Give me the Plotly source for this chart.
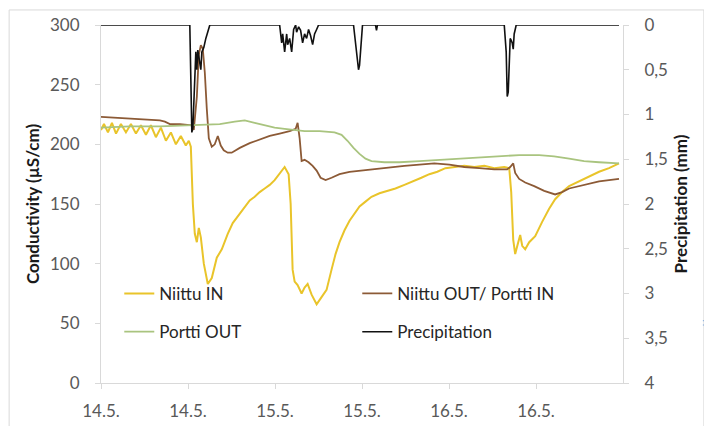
import pandas as pd
import plotly.graph_objects as go

START = pd.Timestamp("2015-05-14 00:00")

# ---- data (hours since 14.5. 00:00) ----
niittu_in_hours = [0, 0.41, 0.96, 1.51, 2.07, 2.75, 3.44, 4.13, 4.82, 5.51, 6.20, 6.88, 7.57, 8.26, 8.95,
                   9.64, 10.33, 11.01, 11.70, 12.11, 12.39, 12.67, 12.94, 13.22, 13.49, 13.77, 14.18, 14.73,
                   15.28, 15.97, 16.66, 17.48, 18.17, 19.14, 19.82, 20.51, 21.20, 21.89, 22.58, 23.27, 23.95,
                   24.64, 25.33, 25.88, 26.16, 26.43, 26.71, 27.12, 27.67, 28.08, 28.50, 29.05, 29.74, 30.42,
                   31.11, 31.80, 32.35, 32.90, 33.59, 34.28, 34.97, 35.66, 36.48, 37.31, 38.41, 39.51, 40.61,
                   41.85, 43.09, 44.19, 45.29, 46.39, 47.50, 48.73, 50.11, 51.49, 52.87, 54.24, 55.62, 56.31,
                   56.58, 56.86, 57.13, 57.55, 57.82, 58.10, 58.51, 59.06, 59.89, 60.85, 61.81, 62.64, 63.60,
                   64.57, 65.94, 67.32, 68.70, 70.07, 71.45]
niittu_in_cond = [212, 217, 210, 218, 209, 217, 210, 217, 209, 216, 208, 216, 206, 214, 203,
                  210, 200, 207, 199, 203, 198, 150, 125, 118, 130, 122, 100, 83,
                  88, 105, 112, 125, 134, 142, 148, 153, 156, 160, 163, 166, 170,
                  176, 181, 175, 150, 95, 85, 82, 75, 80, 83, 74, 66, 72,
                  78, 95, 108, 118, 128, 136, 142, 148, 152, 156, 159, 161, 163,
                  166, 169, 172, 175, 177, 180, 181, 182, 181, 182, 180, 181, 180,
                  160, 120, 108, 118, 124, 115, 112, 118, 123, 135, 146, 154, 160,
                  165, 169, 173, 177, 180, 184]

niittu_out_hours = [0, 2.62, 5.37, 8.12, 8.81, 9.50, 10.88, 11.98, 12.53, 12.80, 13.22, 13.49, 13.77, 14.04,
                    14.32, 14.59, 14.87, 15.28, 15.69, 16.11, 16.52, 16.93, 17.48, 18.03, 19.14, 20.51, 21.89,
                    23.27, 24.64, 26.02, 26.85, 27.12, 27.40, 27.67, 28.08, 28.63, 29.19, 29.74, 30.29, 30.98,
                    31.80, 32.90, 34.28, 35.66, 37.72, 39.79, 41.85, 43.92, 45.98, 48.05, 50.11, 52.18, 54.24,
                    56.03, 56.44, 56.86, 57.13, 57.68, 58.51, 59.75, 61.13, 62.64, 63.60, 64.57, 65.94, 67.32,
                    68.70, 70.07, 71.45]
niittu_out_cond = [223, 222, 221, 220, 219, 217, 217, 216, 216, 212, 240, 275, 283, 280,
                   260, 230, 205, 198, 200, 207, 199, 195, 193, 193, 197, 201, 204,
                   207, 209, 211, 213, 218, 205, 186, 187, 185, 182, 178, 172, 170,
                   172, 175, 177, 178, 179, 181, 182, 183, 184, 183, 181, 180, 179,
                   179, 181, 184, 176, 171, 168, 165, 161, 158, 160, 163, 165, 167,
                   169, 170, 171]

portti_out_hours = [0, 3.99, 8.12, 12.25, 14.32, 16.38, 18.45, 19.82, 21.20, 22.58, 23.95, 25.33, 26.71,
                    28.08, 30.15, 32.21, 33.18, 34.00, 34.83, 35.66, 36.48, 37.31, 39.10, 41.16, 43.92, 46.67,
                    49.42, 52.18, 54.93, 57.68, 60.44, 62.50, 64.57, 66.63, 68.70, 71.45]
portti_out_cond = [214, 215, 215, 216, 216, 217, 219, 220, 218, 216, 214, 213, 212,
                   211, 211, 210, 208, 203, 197, 192, 188, 186, 185, 185, 186, 187,
                   188, 189, 190, 191, 191, 190, 188, 186, 185, 184]

precip_hours = [0, 12.25, 12.39, 12.53, 12.67, 12.80, 13.08, 13.22, 13.35, 13.49, 13.77, 13.91, 14.18,
                14.46, 14.73, 15.01, 24.64, 24.92, 25.06, 25.33, 25.61, 25.74, 26.02, 26.30, 26.57, 26.85,
                26.98, 27.26, 27.53, 27.81, 28.08, 28.36, 28.63, 28.91, 29.19, 29.46, 29.74, 30.01, 34.83,
                35.24, 35.52, 35.66, 35.93, 36.07, 37.86, 38.00, 38.13, 55.62, 55.89, 56.03, 56.17, 56.31,
                56.44, 56.58, 56.72, 56.86, 56.99, 57.27, 71.45]
precip_mm = [0, 0, 0.6, 1.2, 1.15, 0.8, 0.3, 0.5, 0.28, 0.35, 0.5, 0.3, 0.25,
             0.15, 0.08, 0, 0, 0.2, 0.1, 0.3, 0.1, 0.22, 0.15, 0.3, 0.05, 0,
             0.08, 0.02, 0.06, 0.2, 0.1, 0.15, 0.05, 0.12, 0.22, 0.1, 0.05, 0, 0,
             0.3, 0.5, 0.45, 0.1, 0, 0, 0.06, 0, 0, 0.3, 0.8, 0.75, 0.3,
             0.15, 0.17, 0.2, 0.27, 0.1, 0, 0]

tick_hours = [0, 12, 24, 36, 48, 60]
tick_labels = ["14.5.", "14.5.", "15.5.", "15.5.", "16.5.", "16.5."]
precip_ticks = [0, 0.5, 1, 1.5, 2, 2.5, 3, 3.5, 4]
precip_tick_labels = ["0", "0,5", "1", "1,5", "2", "2,5", "3", "3,5", "4"]


def to_time(hours):
    return [START + pd.Timedelta(hours=h) for h in hours]


FONT = "Lato, Carlito, Calibri, 'Open Sans', sans-serif"
TICK_COLOR = "#595959"
LINE_COLOR = "#d9d9d9"

fig = go.Figure()
fig.add_trace(go.Scatter(x=to_time(niittu_in_hours), y=niittu_in_cond, name="Niittu IN",
                         mode="lines", line=dict(color="#e9c42a", width=2), legend="legend"))
fig.add_trace(go.Scatter(x=to_time(niittu_out_hours), y=niittu_out_cond, name="Niittu OUT/ Portti IN",
                         mode="lines", line=dict(color="#8c5a36", width=1.8), legend="legend"))
fig.add_trace(go.Scatter(x=to_time(portti_out_hours), y=portti_out_cond, name="Portti OUT",
                         mode="lines", line=dict(color="#a9c47f", width=1.8), legend="legend2"))
fig.add_trace(go.Scatter(x=to_time(precip_hours), y=precip_mm, name="Precipitation", yaxis="y2",
                         mode="lines", line=dict(color="#111111", width=1.6), legend="legend2"))

legend_common = dict(orientation="h", xref="paper", yref="paper", xanchor="left", yanchor="middle",
                     entrywidth=193, itemwidth=30, bgcolor="rgba(0,0,0,0)",
                     font=dict(family=FONT, size=17, color="#262626"))

# the page body has an 8px margin, so the figure is drawn 8px smaller and the
# margins are reduced accordingly to keep the plot area where the reference has it
fig.update_layout(
    width=704, height=418,
    margin=dict(l=93, r=89, t=17, b=43, autoexpand=False),
    paper_bgcolor="white", plot_bgcolor="white",
    font=dict(family=FONT, size=17, color=TICK_COLOR),
    showlegend=True,
    legend=dict(x=0.035, y=0.249, **legend_common),
    legend2=dict(x=0.035, y=0.142, **legend_common),
    xaxis=dict(type="date", range=[START, START + pd.Timedelta(hours=72)],
               tickmode="array", tickvals=to_time(tick_hours), ticktext=tick_labels,
               ticks="outside", ticklen=5, tickcolor=LINE_COLOR, showline=True, linecolor=LINE_COLOR,
               showgrid=False, zeroline=False, ticklabelstandoff=8,
               tickfont=dict(family=FONT, size=17, color=TICK_COLOR)),
    yaxis=dict(range=[0, 300], tick0=0, dtick=50, ticks="outside", ticklen=5, tickcolor=LINE_COLOR,
               showline=True, linecolor=LINE_COLOR, showgrid=False, zeroline=False,
               ticklabelstandoff=12,
               tickfont=dict(family=FONT, size=17, color=TICK_COLOR),
               title=dict(text="<b>Conductivity (µS/cm)</b>", standoff=6,
                          font=dict(family=FONT, size=17, color="#1a1a1a"))),
    yaxis2=dict(overlaying="y", side="right", range=[4, 0], tickmode="array",
                tickvals=precip_ticks, ticktext=precip_tick_labels,
                ticks="outside", ticklen=5, tickcolor=LINE_COLOR, showline=True, linecolor=LINE_COLOR,
                showgrid=False, zeroline=False, ticklabelstandoff=12,
                tickfont=dict(family=FONT, size=17, color=TICK_COLOR),
                title=dict(text="<b>Precipitation (mm)</b>", standoff=8,
                           font=dict(family=FONT, size=17, color="#1a1a1a"))),
    shapes=[
        dict(type="rect", xref="paper", yref="paper", x0=-0.176, x1=1.155, y0=-0.2, y1=1.042,
             line=dict(color=LINE_COLOR, width=1), fillcolor="rgba(0,0,0,0)", layer="below"),
        dict(type="line", xref="paper", yref="paper", x0=1.153, x1=1.171, y0=0.174, y1=0.174,
             line=dict(color="#7ea6d8", width=1)),
        dict(type="line", xref="paper", yref="paper", x0=1.153, x1=1.171, y0=0.162, y1=0.162,
             line=dict(color="#7ea6d8", width=1)),
    ],
)

fig.write_html("out.html")
